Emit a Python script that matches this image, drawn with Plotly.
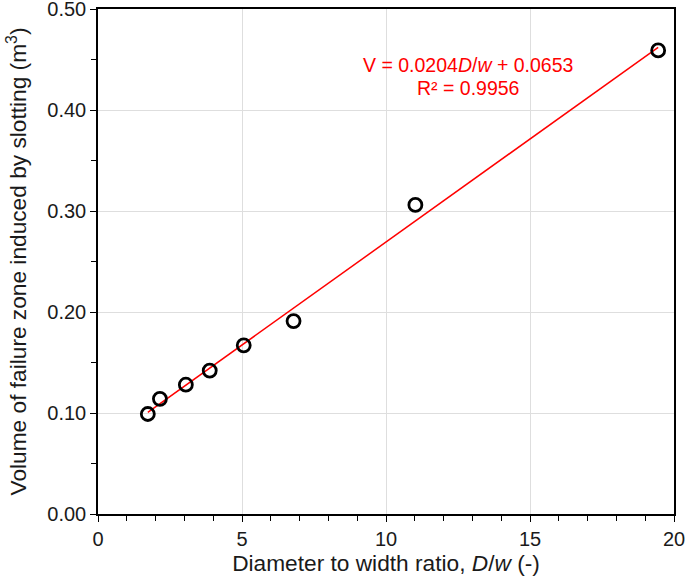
import plotly.graph_objects as go

# Data
dw_ratio = [1.73, 2.15, 3.05, 3.88, 5.06, 6.79, 11.02, 19.45]
volume = [0.099, 0.114, 0.128, 0.142, 0.167, 0.191, 0.306, 0.459]
fit_slope = 0.0204
fit_intercept = 0.0653
fit_r2 = 0.9956
x_ticks = [0, 5, 10, 15, 20]
y_ticks = [0.0, 0.1, 0.2, 0.3, 0.4, 0.5]

font_family = "Liberation Sans, Arial, sans-serif"
text_color = "#1a1a1a"

fit_x = [min(dw_ratio), max(dw_ratio)]
fit_y = [fit_slope * v + fit_intercept for v in fit_x]

fig = go.Figure()
fig.add_trace(go.Scatter(
    x=fit_x, y=fit_y, mode="lines",
    line=dict(color="#ff0000", width=1.5),
    showlegend=False, hoverinfo="skip",
))
fig.add_trace(go.Scatter(
    x=dw_ratio, y=volume, mode="markers",
    marker=dict(symbol="circle-open", size=13, color="#000000",
                line=dict(width=2.8, color="#000000")),
    showlegend=False,
))

fig.add_annotation(
    x=12.84, y=0.4447, xref="x", yref="y",
    text="V = 0.0204<i>D</i>/<i>w</i> + 0.0653",
    showarrow=False, align="center",
    font=dict(family=font_family, size=19.5, color="#ff0000"),
)
fig.add_annotation(
    x=12.84, y=0.4215, xref="x", yref="y",
    text="R² = %.4f" % fit_r2,
    showarrow=False, align="center",
    font=dict(family=font_family, size=19.5, color="#ff0000"),
)

fig.update_xaxes(
    range=[0, 20], tickvals=x_ticks, ticktext=[str(v) for v in x_ticks],
    showline=True, linecolor="#000000", linewidth=1.5, mirror=True,
    ticks="outside", ticklen=6, tickwidth=1.3, tickcolor="#000000",
    minor=dict(dtick=1, ticks="outside", ticklen=5, tickwidth=1.2, tickcolor="#000000", showgrid=False),
    showgrid=True, gridcolor="#dedede", gridwidth=1,
    zeroline=False, automargin=False, ticklabeloverflow="allow",
    tickfont=dict(family=font_family, size=20, color=text_color),
    title=dict(text="Diameter to width ratio, <i>D</i>/<i>w</i> (-)",
               font=dict(family=font_family, size=22.7, color=text_color), standoff=6),
)
fig.update_yaxes(
    range=[0, 0.5], tickvals=y_ticks, ticktext=["%.2f" % v for v in y_ticks],
    showline=True, linecolor="#000000", linewidth=1.5, mirror=True,
    ticks="outside", ticklen=6, tickwidth=1.3, tickcolor="#000000",
    minor=dict(dtick=0.05, ticks="outside", ticklen=5, tickwidth=1.2, tickcolor="#000000", showgrid=False),
    showgrid=True, gridcolor="#dedede", gridwidth=1,
    zeroline=False, automargin=False, ticklabeloverflow="allow",
    tickfont=dict(family=font_family, size=20, color=text_color),
    title=dict(text="Volume of failure zone induced by slotting (m<sup>3</sup>)",
               font=dict(family=font_family, size=22.7, color=text_color), standoff=14),
)

fig.update_layout(
    width=685, height=580,
    margin=dict(l=98, r=11, t=9, b=66),
    plot_bgcolor="#ffffff", paper_bgcolor="#ffffff",
)

fig.write_html("out.html",
               config={"displayModeBar": False},
               post_script="document.body.style.margin='0';document.body.style.overflow='hidden';")
